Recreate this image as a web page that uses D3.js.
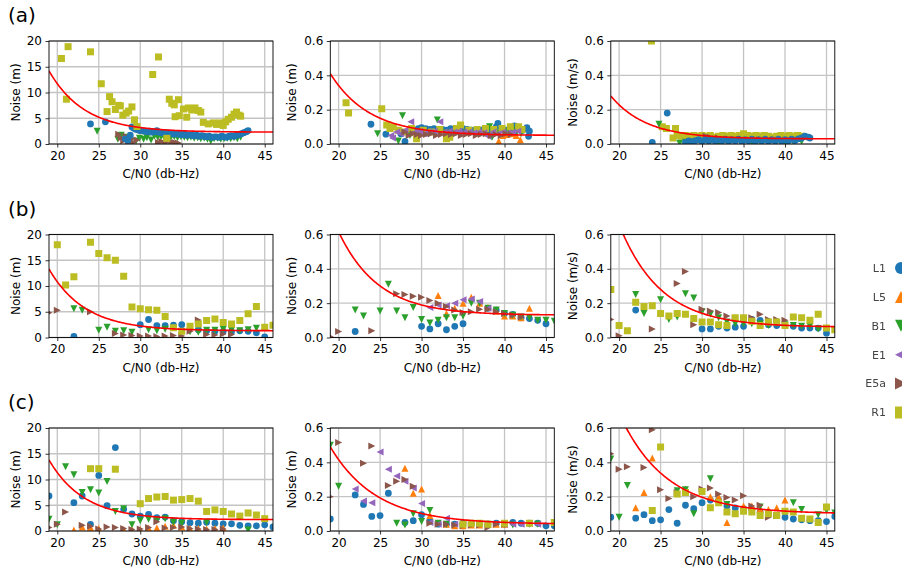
<!DOCTYPE html>
<html><head><meta charset="utf-8">
<script src="https://cdn.jsdelivr.net/npm/d3@7"></script>
<style>
body{margin:0;background:#fff;}
svg{display:block;}
text{font-family:"DejaVu Sans",sans-serif;}
</style></head><body>
<svg id="chart" width="902" height="568"></svg>
<script>
// ---- series definitions ----
const seriesNames  = ["L1", "L5", "B1", "E1", "E5a", "R1"];
const seriesColors = ["#1f77b4", "#ff7f0e", "#2ca02c", "#9467bd", "#8c564b", "#bcbd22"];
const seriesShapes = ["circle", "up", "down", "left", "right", "square"];

// ---- axes ----
const xDomain = [19, 46];
const xTicks = [20, 25, 30, 35, 40, 45];
const yTicksPos = [0, 5, 10, 15, 20];
const yTicksVel = [0, 0.2, 0.4, 0.6];
const rowLabels = ["(a)", "(b)", "(c)"];
const colYLabels = ["Noise (m)", "Noise (m)", "Noise (m/s)"];
const xLabel = "C/N0 (db-Hz)";

// ---- measurements [C/N0, noise] per panel ----
const panelA1 = {
  B1: [[24.8,2.5],[27.3,0.9],[27.7,1.7],[28.1,1.3],[28.8,0.5],[29.5,0.6],[29.9,1.1],[30.4,0.9],[30.8,1.2],[31.3,0.8],[31.7,1.5],[32.1,1.3],[32.5,1.4],[32.9,1.2],[33.3,1.5],[33.7,1.3],[34.1,1.4],[34.5,1.2],[34.9,1.4],[35.3,1.3],[35.7,1.2],[36.1,1.3],[36.5,1.1],[36.9,1.2],[37.3,1.0],[37.7,1.1],[38.1,0.9],[38.5,0.6],[38.9,1.0],[39.3,1.1],[39.7,0.9],[40.1,1.0],[40.5,1.1],[40.9,1.0],[41.3,1.2],[41.7,1.0],[42.1,1.3]],
  E5a: [[27.4,1.9],[27.7,1.2],[28,0.6],[28.3,1.5],[28.6,0.4],[28.9,1.0],[29.2,0.3],[29.6,0.8],[32.2,0.3],[32.6,0.5],[33,0.2],[33.4,0.6],[33.8,0.4],[34.2,0.3],[34.6,0.2]],
  L1: [[24,3.9],[25.8,4.3],[28.2,1.0],[28.5,0.7],[28.8,1.7],[29,3.3],[29.2,3.1],[29.4,2.9],[29.6,2.8],[29.9,2.6],[30.2,2.6],[30.5,2.5],[30.8,2.4],[31.1,2.5],[31.4,2.3],[31.7,2.4],[32,2.6],[32.3,2.3],[32.6,2.2],[32.9,2.1],[33.2,2.2],[33.5,2.0],[33.8,2.1],[34.1,1.9],[34.4,2.0],[34.7,1.9],[35,1.8],[35.3,1.9],[35.6,1.7],[35.9,1.8],[36.2,1.7],[36.5,1.6],[36.8,1.7],[37.1,1.5],[37.4,1.6],[37.7,1.5],[38,1.4],[38.3,1.5],[38.6,1.3],[38.9,1.4],[39.2,1.4],[39.5,1.3],[39.8,1.5],[40.1,1.4],[40.4,1.3],[40.7,1.5],[41,1.6],[41.3,1.5],[41.6,1.7],[41.9,1.8],[42.2,2.0],[42.5,2.2],[42.8,2.4],[43,2.6]],
  R1: [[20.5,16.6],[21.3,18.9],[21.1,8.7],[24,17.9],[25.3,11.7],[26.3,9.2],[26.6,8.2],[26,6.3],[27.4,7.5],[27.6,7.4],[27,6.7],[29,7.2],[27.9,5.6],[28.3,6.0],[28.6,6.4],[29.3,4.7],[29.6,3.4],[31.5,13.5],[32.2,16.9],[33.5,8.7],[33.8,7.9],[34.6,8.6],[34.1,7.6],[34.2,5.3],[34.7,5.5],[35.6,5.2],[35.2,6.8],[35.8,7.0],[36.2,6.6],[36.6,7.0],[37,6.5],[37.3,6.2],[37.6,4.2],[38.2,3.9],[38.8,4.1],[39.2,3.8],[39.6,4.1],[40,3.6],[40.3,4.3],[40.6,4.8],[41,5.2],[41.3,5.8],[41.6,6.2],[41.9,5.6],[42.1,5.4],[33.2,1.1]]
};
const panelA2 = {
  L1: [[23.9,0.115],[25.7,0.057],[27.5,0.06],[28,0.015],[29.6,0.09],[30,0.095],[30.5,0.09],[31,0.085],[31.5,0.09],[32,0.08],[32.5,0.085],[33,0.08],[33.5,0.09],[34,0.085],[34.5,0.08],[35,0.09],[35.5,0.085],[36,0.08],[36.5,0.075],[37,0.08],[37.5,0.085],[38,0.07],[38.5,0.08],[39,0.1],[39.2,0.12],[39.7,0.085],[40.2,0.08],[40.7,0.085],[41.2,0.105],[41.7,0.09],[42.2,0.08],[42.7,0.095],[43,0.075],[42.9,0.045]],
  L5: [[39.3,0.017],[39.8,0.05],[40.3,0.055],[40.8,0.06],[41.4,0.05],[41.9,0.025]],
  B1: [[24.7,0.06],[27.2,0.017],[27.7,0.165],[28.6,0.05],[29.6,0.055],[30.8,0.06],[31.9,0.14],[33,0.065],[34.2,0.07],[35.4,0.065],[36.6,0.07],[37.8,0.075],[38.2,0.1],[38.5,0.04],[39.2,0.065],[40.4,0.075],[41,0.08],[41.5,0.07],[42,0.06]],
  R1: [[20.9,0.24],[21.2,0.18],[25.2,0.205],[25.8,0.11],[26.2,0.09],[26.6,0.1],[27.2,0.08],[28,0.07],[28.8,0.09],[29.4,0.03],[30.2,0.08],[31.2,0.07],[32.2,0.085],[33,0.03],[33.4,0.04],[34.2,0.09],[34.7,0.11],[35.7,0.08],[36.7,0.085],[37.7,0.09],[38.7,0.085],[39.7,0.09],[40.7,0.1],[41.7,0.1],[42.1,0.085]],
  E1: [[26.5,0.035],[26.3,0.05],[27,0.07],[27.5,0.06],[28,0.08],[28.7,0.13],[29.2,0.07],[29.8,0.075],[30.3,0.06],[30.9,0.07],[31.5,0.075],[32.2,0.13],[32.7,0.07],[33.3,0.075],[33.9,0.07],[34.5,0.075],[35.1,0.07],[35.7,0.07],[36.3,0.065],[36.9,0.07],[37.5,0.065],[38,0.045],[38.6,0.07],[39.2,0.06],[39.8,0.07],[40.4,0.065],[41,0.07],[41.6,0.075]],
  E5a: [[28,0.07],[28.5,0.05],[29,0.06],[29.5,0.055],[30,0.05],[30.6,0.055],[31.2,0.06],[31.8,0.05],[32.4,0.055],[33,0.06],[33.6,0.055],[34.2,0.06],[34.8,0.05],[35.4,0.055],[36,0.06],[36.6,0.05],[37.2,0.055],[37.8,0.06],[38.4,0.05],[39,0.055],[39.6,0.05],[40.2,0.06],[40.8,0.055]]
};
const panelA3 = {
  R1: [[23.9,0.6],[25.2,0.1],[25.7,0.09],[26.8,0.09],[26.5,0.035],[27,0.05],[27.5,0.045],[28,0.05],[28.5,0.045],[29,0.05],[29.5,0.045],[30,0.05],[30.5,0.045],[31,0.05],[31.5,0.04],[32,0.045],[32.5,0.05],[33,0.045],[33.5,0.05],[34,0.045],[34.5,0.05],[35,0.06],[35.5,0.05],[36,0.045],[36.5,0.05],[37,0.045],[37.5,0.05],[38,0.045],[38.5,0.04],[39,0.045],[39.5,0.05],[40,0.045],[40.5,0.05],[41,0.045],[41.5,0.05],[42,0.045]],
  B1: [[24.8,0.115],[27.3,0.005],[28,0.01],[29,0.012],[30,0.008],[31,0.012],[32,0.008],[33,0.012],[34,0.008],[35,0.012],[36,0.008],[37,0.012],[38,0.008],[39,0.012],[40,0.008],[41,0.012],[42,0.015]],
  E5a: [[30.5,0.045],[31,0.04],[32,0.035]],
  L1: [[24,0.01],[25.8,0.18],[28,0.01],[28.4,0.018],[28.8,0.012],[29.2,0.02],[29.6,0.025],[30,0.015],[30.4,0.025],[30.8,0.018],[31.2,0.028],[31.6,0.015],[32,0.025],[32.4,0.018],[32.8,0.028],[33.2,0.015],[33.6,0.025],[34,0.018],[34.4,0.028],[34.8,0.015],[35.2,0.025],[35.6,0.018],[36,0.028],[36.4,0.015],[36.8,0.025],[37.2,0.018],[37.6,0.028],[38,0.015],[38.4,0.025],[38.8,0.018],[39.2,0.028],[39.6,0.015],[40,0.025],[40.4,0.018],[40.8,0.028],[41.2,0.02],[41.6,0.03],[42,0.035],[42.4,0.045],[42.8,0.04],[43,0.035]]
};
const panelB1 = {
  L1: [[22,0.2],[30,2.5],[31,3.5],[32,2.3],[33,2.3],[34,2.4],[35,2.5],[37,1.5],[38,1.3],[39,1.2],[40,1.2],[41,1.1],[42,1.3],[43,1.2],[44,0.9],[45,0.1]],
  B1: [[22,5.6],[23,5.3],[25,1.4],[26,2.0],[27,1.2],[28,1.3],[29,1.0],[31,1.5],[32,1.3],[33,1.6],[36,1.1],[37,1.0],[38,1.4],[39,1.4],[40,1.6],[41,1.4],[42,1.3],[43,1.5],[44,1.8]],
  E5a: [[19,4.8],[20,5.3],[24,5.0],[27,0.8],[28,0.5],[29,0.4],[30,0.3],[31,0.3],[32,0.2],[33,0.3],[34,0.4],[35,0.3],[36,1.2],[37,3.4],[38,0.6],[39,0.5],[40,0.7],[41,0.6]],
  R1: [[20,18],[21,10.2],[22,11.8],[24,18.5],[25,16.3],[26,15.5],[27,15],[28,11.9],[29,5.9],[30,5.6],[31,5.4],[32,5.3],[33,4.1],[34,1.9],[35,1.2],[36,2.2],[37,2.6],[38,3.3],[39,3.6],[40,2.9],[41,2.6],[42,3.3],[43,4.6],[44,6.0],[45,2.0],[46,2.4]]
};
const panelB2 = {
  L1: [[22,0.035],[30,0.065],[31,0.05],[32,0.08],[33,0.045],[34,0.065],[35,0.08],[38,0.17],[39,0.16],[40,0.14],[41,0.135],[42,0.115],[43,0.11],[44,0.1],[45,0.08]],
  L5: [[32,0.245],[33,0.14],[34,0.17],[35,0.2],[36,0.235],[37,0.2],[38,0.175],[39,0.155],[40,0.125],[41,0.125],[42,0.115],[43,0.17]],
  B1: [[22,0.16],[23,0.125],[25,0.155],[26,0.31],[27,0.155],[28,0.115],[29,0.175],[30,0.105],[31,0.085],[32,0.1],[33,0.115],[34,0.115],[35,0.125],[36,0.2],[37,0.2],[38,0.17],[39,0.16],[40,0.14],[41,0.13],[42,0.12],[43,0.115],[44,0.1],[45,0.1],[46,0.095]],
  E1: [[31,0.175],[32,0.19],[33,0.185],[34,0.2],[35,0.22],[36,0.225],[37,0.21],[38,0.17]],
  E5a: [[19,0.005],[20,0.035],[24,0.04],[27,0.255],[28,0.25],[29,0.24],[30,0.235],[31,0.215],[32,0.2],[33,0.18],[34,0.16],[35,0.145],[36,0.15],[37,0.165],[38,0.165],[39,0.15],[40,0.14],[41,0.13],[42,0.12]]
};
const panelB3 = {
  L1: [[22,0.16],[30,0.05],[31,0.05],[32,0.065],[33,0.055],[34,0.06],[35,0.065],[36,0.105],[37,0.1],[38,0.075],[39,0.07],[40,0.07],[41,0.065],[42,0.055],[43,0.055],[44,0.055],[45,0.025]],
  B1: [[22,0.25],[23,0.14],[25,0.22],[26,0.105],[27,0.12],[28,0.255],[29,0.23],[30,0.15],[31,0.135],[32,0.115],[33,0.09],[34,0.08],[35,0.08],[36,0.08],[37,0.08],[38,0.07],[39,0.08],[40,0.075],[41,0.07],[42,0.065],[43,0.065],[44,0.05]],
  E5a: [[19,0.105],[20,0.01],[24,0.05],[27,0.315],[28,0.385],[29,0.075],[30,0.165],[31,0.155],[32,0.145],[33,0.125],[34,0.11],[35,0.11],[36,0.115],[37,0.135],[38,0.105],[39,0.105],[40,0.1]],
  R1: [[19,0.28],[20,0.07],[21,0.04],[22,0.205],[23,0.18],[24,0.185],[25,0.14],[26,0.125],[27,0.14],[28,0.135],[29,0.11],[30,0.09],[31,0.09],[32,0.075],[33,0.07],[34,0.115],[35,0.115],[36,0.095],[37,0.07],[38,0.09],[39,0.09],[40,0.07],[41,0.12],[42,0.115],[43,0.1],[44,0.135],[45,0.055],[46,0.045]]
};
const panelC1 = {
  L1: [[19,6.8],[22,5.5],[23,6.8],[24,1.3],[25,10.8],[26,4.9],[27,16.2],[28,4.2],[29,3.3],[30,2.9],[31,3.2],[32,2.6],[33,2.7],[34,2.0],[35,1.8],[36,1.6],[37,1.5],[38,1.7],[39,1.5],[40,1.4],[41,1.4],[42,1.1],[43,1.0],[44,1.0],[45,1.2],[46,0.8]],
  L5: [[22,0.2],[23,0.8],[24,0.7],[25,0.5],[28,0.3],[29,0.3],[30,0.3],[31,0.6],[32,0.6],[33,0.9],[34,1.1],[35,0.8],[36,0.5],[37,0.5],[38,0.4],[39,0.5],[40,0.6]],
  B1: [[19,2.3],[20,1.2],[21,12.5],[22,10.9],[23,7.5],[24,8.0],[25,7.4],[26,9.6],[27,3.8],[28,4.3],[29,1.2],[30,2.0],[31,2.3],[32,2.0],[33,2.4],[34,1.7],[35,1.5],[38,1.7],[43,0.2]],
  E5a: [[19,0.7],[20,1.3],[21,3.7],[23,1.1],[24,0.9],[25,0.4],[26,0.8],[27,0.7],[28,0.5],[29,0.3],[30,0.4],[31,0.7],[32,1.8],[33,0.6],[34,0.7],[35,0.8],[36,0.5],[37,0.4],[38,0.3],[39,0.3],[40,0.4]],
  R1: [[24,12.1],[25,12.1],[27,12.0],[30,5.3],[31,6.3],[32,6.6],[33,6.7],[34,6.0],[35,6.1],[36,6.3],[37,5.8],[38,3.8],[39,4.1],[40,3.8],[41,3.3],[42,2.9],[43,3.5],[44,3.1],[45,2.4]]
};
const panelC2 = {
  L1: [[19,0.07],[22,0.21],[23,0.155],[24,0.085],[25,0.09],[26,0.22],[28,0.05],[29,0.06],[30,0.095],[31,0.06],[32,0.04],[33,0.04],[34,0.04],[35,0.045],[36,0.04],[37,0.04],[38,0.04],[39,0.045],[40,0.04],[41,0.05],[42,0.045],[43,0.045],[44,0.045],[45,0.03],[46,0.03]],
  L5: [[28,0.365],[29,0.22],[30,0.245],[31,0.09],[33,0.04],[34,0.03],[35,0.03],[36,0.035],[37,0.035],[38,0.04],[39,0.04],[40,0.04]],
  B1: [[19,0.5],[20,0.26],[27,0.045],[28,0.035],[29,0.1],[30,0.055],[31,0.12],[32,0.045],[33,0.04],[35,0.04],[36,0.04],[38,0.04],[40,0.04],[41,0.035],[43,0.04],[44,0.04],[46,0.045]],
  E1: [[22,0.245],[23,0.175],[24,0.165],[25,0.46],[26,0.36],[27,0.32],[28,0.29],[29,0.25],[30,0.16],[31,0.05],[32,0.04],[33,0.075],[34,0.04],[40,0.04],[41,0.04],[42,0.04],[43,0.045],[44,0.04]],
  E5a: [[19,0.2],[20,0.515],[23,0.395],[24,0.495],[26,0.265],[27,0.29],[28,0.3],[29,0.26],[31,0.045],[32,0.04],[33,0.04],[34,0.035],[35,0.03],[36,0.035],[37,0.035],[38,0.02],[39,0.04],[40,0.04]],
  R1: [[35,0.04],[36,0.045],[37,0.045],[38,0.04],[40,0.045],[43,0.045],[46,0.05]]
};
const panelC3 = {
  L1: [[19,0.08],[22,0.075],[23,0.095],[24,0.06],[25,0.065],[26,0.125],[27,0.045],[28,0.15],[29,0.13],[30,0.165],[31,0.18],[32,0.18],[33,0.145],[34,0.135],[35,0.13],[36,0.125],[37,0.11],[38,0.1],[39,0.09],[40,0.08],[41,0.07],[42,0.065],[43,0.06],[44,0.06],[45,0.055],[46,0.085]],
  L5: [[22,0.135],[23,0.225],[24,0.425],[28,0.245],[31,0.2],[32,0.2],[33,0.05],[35,0.145],[36,0.145],[37,0.13],[38,0.125],[39,0.135],[40,0.18]],
  B1: [[19,0.42],[20,0.08],[21,0.265],[27,0.235],[28,0.24],[29,0.1],[31,0.305],[33,0.155],[37,0.14],[41,0.165],[42,0.125],[44,0.095],[45,0.12],[46,0.105]],
  E5a: [[19,0.45],[20,0.36],[21,0.375],[23,0.37],[24,0.59],[25,0.24],[26,0.19],[27,0.225],[28,0.225],[29,0.2],[30,0.245],[31,0.25],[32,0.215],[33,0.195],[34,0.18],[35,0.205],[36,0.145],[37,0.15],[38,0.08],[39,0.09]],
  R1: [[24,0.12],[25,0.49],[27,0.215],[28,0.225],[30,0.23],[31,0.135],[32,0.165],[33,0.11],[34,0.1],[35,0.115],[36,0.11],[37,0.09],[38,0.1],[39,0.09],[40,0.115],[41,0.11],[42,0.075],[43,0.07],[44,0.05],[45,0.14]]
};

// fitted noise model per panel: [floor, amplitude, decay], noise = floor + amplitude*exp(-decay*(cn0-19))
const fitParams = [
  [[2.3, 11.9, 0.235], [0.05, 0.36, 0.213], [0.03, 0.25, 0.232]],
  [[1.3, 12.0, 0.231], [0.13, 0.60, 0.21], [0.06, 0.73, 0.20]],
  [[2.2, 11.6, 0.237], [0.04, 0.45, 0.18], [0.10, 0.70, 0.18]]
];

const panels = [
  [panelA1, panelA2, panelA3],
  [panelB1, panelB2, panelB3],
  [panelC1, panelC2, panelC3]
];

// ---- layout ----
const rowTops = [41, 234.5, 428];
const colLefts = [49, 330.3, 610.8];
const plotW = 224, plotH = 103;
const markerR = 3.5;

const svg = d3.select("#chart");
const defs = svg.append("defs");

function markerPath(shape, r) {
  switch (shape) {
    case "circle": return d3.symbol(d3.symbolCircle, Math.PI * r * r)();
    case "square": return `M${-r},${-r}H${r}V${r}H${-r}Z`;
    case "up":     return `M0,${-r}L${r},${r}L${-r},${r}Z`;
    case "down":   return `M0,${r}L${r},${-r}L${-r},${-r}Z`;
    case "left":   return `M${-r},0L${r},${-r}L${r},${r}Z`;
    case "right":  return `M${r},0L${-r},${-r}L${-r},${r}Z`;
  }
}

panels.forEach((row, ri) => {
  row.forEach((panel, ci) => {
    const x0 = colLefts[ci], y0 = rowTops[ri];
    const yMax = ci === 0 ? 20 : 0.6;
    const yTicks = ci === 0 ? yTicksPos : yTicksVel;
    const x = d3.scaleLinear().domain(xDomain).range([0, plotW]);
    const y = d3.scaleLinear().domain([0, yMax]).range([plotH, 0]);
    const g = svg.append("g").attr("transform", `translate(${x0},${y0})`);
    const clipId = `clip-${ri}-${ci}`;
    defs.append("clipPath").attr("id", clipId)
      .append("rect").attr("width", plotW).attr("height", plotH);

    // grid
    g.append("g").selectAll("line").data(xTicks).join("line")
      .attr("x1", d => x(d)).attr("x2", d => x(d)).attr("y1", 0).attr("y2", plotH)
      .attr("stroke", "#c4c4c4").attr("stroke-width", 1.3);
    g.append("g").selectAll("line").data(yTicks).join("line")
      .attr("y1", d => y(d)).attr("y2", d => y(d)).attr("x1", 0).attr("x2", plotW)
      .attr("stroke", "#c4c4c4").attr("stroke-width", 1.3);

    // points, drawn series by series in the order the panel lists them
    const pts = g.append("g").attr("clip-path", `url(#${clipId})`);
    Object.keys(panel).forEach(name => {
      const si = seriesNames.indexOf(name);
      pts.append("g").selectAll("path").data(panel[name]).join("path")
        .attr("d", markerPath(seriesShapes[si], seriesShapes[si] === "circle" ? 3.4 : markerR))
        .attr("transform", d => `translate(${x(d[0])},${y(d[1])})`)
        .attr("fill", seriesColors[si]);
    });

    // fitted curve
    const [fl, amp, dec] = fitParams[ri][ci];
    const xs = d3.range(xDomain[0], xDomain[1] + 0.001, 0.1);
    pts.append("path")
      .datum(xs)
      .attr("d", d3.line().x(d => x(d)).y(d => y(fl + amp * Math.exp(-dec * (d - 19)))))
      .attr("fill", "none").attr("stroke", "red").attr("stroke-width", 1.6);

    // axes
    const fmt = ci === 0 ? d3.format("d") : d3.format(".1f");
    const ax = g.append("g").attr("transform", `translate(0,${plotH})`)
      .call(d3.axisBottom(x).tickValues(xTicks).tickSize(3.5).tickPadding(3.5).tickFormat(d3.format("d")));
    const ay = g.append("g")
      .call(d3.axisLeft(y).tickValues(yTicks).tickSize(3.5).tickPadding(3.5).tickFormat(fmt));
    [ax, ay].forEach(a => {
      a.select(".domain").remove();
      a.selectAll("text").attr("font-size", 12).attr("font-family", "DejaVu Sans").attr("fill", "#000");
      a.selectAll("line").attr("stroke", "#000").attr("stroke-width", 0.8);
    });

    // frame
    g.append("rect").attr("width", plotW).attr("height", plotH)
      .attr("fill", "none").attr("stroke", "#000").attr("stroke-width", 0.9);

    // labels
    g.append("text").attr("x", plotW / 2).attr("y", plotH + 34)
      .attr("text-anchor", "middle").attr("font-size", 12).text(xLabel);
    const labelOffset = ci === 0 ? -33 : -38.5;
    g.append("text")
      .attr("transform", `translate(${labelOffset},${plotH / 2}) rotate(-90)`)
      .attr("text-anchor", "middle").attr("dy", "0.35em").attr("font-size", 12)
      .text(colYLabels[ci]);
  });
  svg.append("text").attr("x", 8).attr("y", rowTops[ri] - 19)
    .attr("font-family", "Liberation Sans").attr("font-size", 20).text(rowLabels[ri]);
});

// legend
defs.append("filter").attr("id", "soft").append("feGaussianBlur").attr("stdDeviation", 0.45);
const legend = svg.append("g").attr("filter", "url(#soft)");
seriesNames.forEach((name, i) => {
  const ly = 268 + i * 28.9;
  legend.append("text").attr("x", 886).attr("y", ly).attr("dy", "0.35em")
    .attr("text-anchor", "end").attr("font-size", 11).attr("fill", "#444").text(name);
  legend.append("path").attr("d", markerPath(seriesShapes[i], 6))
    .attr("transform", `translate(901,${ly})`).attr("fill", seriesColors[i]);
});
</script></body></html>
